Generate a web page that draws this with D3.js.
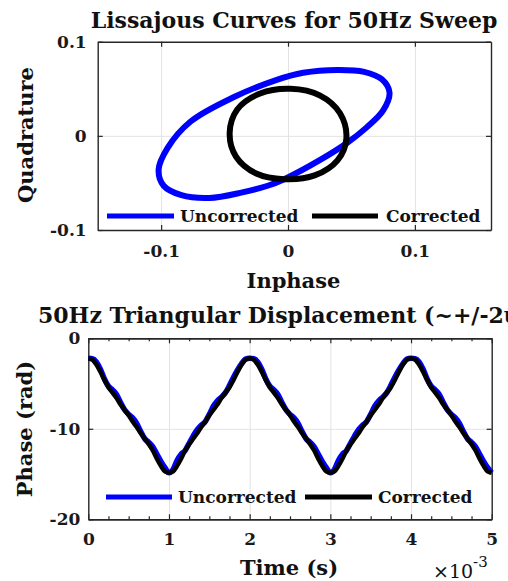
<!DOCTYPE html>
<html>
<head>
<meta charset="utf-8">
<script src="https://cdn.jsdelivr.net/npm/d3@7"></script>
<style>
body { margin: 0; background: #fff; }
svg { display: block; font-family: "DejaVu Serif", serif; font-weight: bold; }
</style>
</head>
<body>
<svg></svg>
<script>
const width = 508;
const height = 581;

// Lissajous samples (inphase, quadrature)
const uncorrectedI = [0.080, 0.074, 0.060, 0.039, 0.012, -0.010, -0.043, -0.077, -0.095, -0.102, -0.098, -0.084, -0.062, -0.036, -0.016, -0.003, 0.026, 0.047, 0.062, 0.075];
const uncorrectedQ = [0.046, 0.060, 0.068, 0.070, 0.067, 0.059, 0.041, 0.015, -0.013, -0.036, -0.053, -0.063, -0.066, -0.060, -0.053, -0.046, -0.025, -0.007, 0.009, 0.027];
const correctedI = [0.046, 0.041, 0.025, 0.002, -0.022, -0.040, -0.046, -0.041, -0.025, -0.003, 0.021, 0.039];
const correctedQ = [-0.003, 0.024, 0.043, 0.050, 0.045, 0.028, 0.003, -0.022, -0.040, -0.046, -0.042, -0.026];
const lissTicks = [-0.1, 0, 0.1];

// triangular displacement, time in units of 1e-3 s
const timeMs = [0, 0.05, 0.1, 0.15, 0.2, 0.25, 0.3, 0.35, 0.4, 0.45, 0.5, 0.55, 0.6, 0.65, 0.7, 0.75, 0.8, 0.85, 0.9, 0.95,
  1, 1.05, 1.1, 1.15, 1.2, 1.25, 1.3, 1.35, 1.4, 1.45, 1.5, 1.55, 1.6, 1.65, 1.7, 1.75, 1.8, 1.85, 1.9, 1.95,
  2, 2.05, 2.1, 2.15, 2.2, 2.25, 2.3, 2.35, 2.4, 2.45, 2.5, 2.55, 2.6, 2.65, 2.7, 2.75, 2.8, 2.85, 2.9, 2.95,
  3, 3.05, 3.1, 3.15, 3.2, 3.25, 3.3, 3.35, 3.4, 3.45, 3.5, 3.55, 3.6, 3.65, 3.7, 3.75, 3.8, 3.85, 3.9, 3.95,
  4, 4.05, 4.1, 4.15, 4.2, 4.25, 4.3, 4.35, 4.4, 4.45, 4.5, 4.55, 4.6, 4.65, 4.7, 4.75, 4.8, 4.85, 4.9, 4.95, 5];
const phaseUncorrected = [-2.2, -2.25, -2.6, -3.4, -4.5, -5.3, -5.7, -6.2, -7.1, -7.9, -8.4, -8.8, -9.4, -10.3, -11.1, -11.5, -12.0, -12.8, -13.6, -14.3,
  -14.85, -14.5, -13.5, -12.8, -12.4, -11.6, -10.8, -10.1, -9.6, -9.2, -8.4, -7.5, -6.9, -6.5, -6.0, -5.2, -4.3, -3.5, -2.8, -2.3,
  -2.2, -2.25, -2.6, -3.4, -4.5, -5.3, -5.7, -6.2, -7.1, -7.9, -8.4, -8.8, -9.4, -10.3, -11.1, -11.5, -12.0, -12.8, -13.6, -14.3,
  -14.85, -14.5, -13.5, -12.8, -12.4, -11.6, -10.8, -10.1, -9.6, -9.2, -8.4, -7.5, -6.9, -6.5, -6.0, -5.2, -4.3, -3.5, -2.8, -2.3,
  -2.2, -2.25, -2.6, -3.4, -4.5, -5.3, -5.7, -6.2, -7.1, -7.9, -8.4, -8.8, -9.4, -10.3, -11.1, -11.5, -12.0, -12.8, -13.6, -14.3, -14.85];
const phaseCorrected = [-2.2, -2.35, -2.9, -3.7, -4.6, -5.4, -6.0, -6.6, -7.3, -7.9, -8.5, -9.2, -9.8, -10.5, -11.1, -11.7, -12.4, -13.3, -14.1, -14.7,
  -14.85, -14.7, -14.1, -13.3, -12.4, -11.7, -11.1, -10.5, -9.8, -9.2, -8.5, -7.9, -7.3, -6.6, -6.0, -5.4, -4.6, -3.7, -2.9, -2.35,
  -2.2, -2.35, -2.9, -3.7, -4.6, -5.4, -6.0, -6.6, -7.3, -7.9, -8.5, -9.2, -9.8, -10.5, -11.1, -11.7, -12.4, -13.3, -14.1, -14.7,
  -14.85, -14.7, -14.1, -13.3, -12.4, -11.7, -11.1, -10.5, -9.8, -9.2, -8.5, -7.9, -7.3, -6.6, -6.0, -5.4, -4.6, -3.7, -2.9, -2.35,
  -2.2, -2.35, -2.9, -3.7, -4.6, -5.4, -6.0, -6.6, -7.3, -7.9, -8.5, -9.2, -9.8, -10.5, -11.1, -11.7, -12.4, -13.3, -14.1, -14.7, -14.85];
const timeTicks = [0, 1, 2, 3, 4, 5];
const timeMinorTicks = [0.25, 0.5, 0.75, 1.25, 1.5, 1.75, 2.25, 2.5, 2.75, 3.25, 3.5, 3.75, 4.25, 4.5, 4.75];
const phaseTicks = [-20, -10, 0];

const seriesNames = ['Uncorrected', 'Corrected'];
const seriesColors = ['#0000ff', '#000000'];

const svg = d3.select('svg')
  .attr('width', width)
  .attr('height', height);

const fmt = d => String(d);

function drawFrame(x, y, xTicks, yTicks, opts) {
  const [x0, x1] = x.range();
  const [y0, y1] = y.range(); // y0 bottom, y1 top
  const g = svg.append('g');

  // grid
  g.append('g')
    .attr('transform', `translate(0,${y0})`)
    .call(d3.axisBottom(x).tickValues(xTicks.filter(t => x(t) > x0 + 1 && x(t) < x1 - 1)).tickSize(y1 - y0).tickFormat(''))
    .call(a => a.select('.domain').remove())
    .selectAll('line').attr('stroke', '#e3e3e3').attr('stroke-width', 1);
  g.append('g')
    .attr('transform', `translate(${x0},0)`)
    .call(d3.axisLeft(y).tickValues(yTicks.filter(t => y(t) < y0 - 1 && y(t) > y1 + 1)).tickSize(x0 - x1).tickFormat(''))
    .call(a => a.select('.domain').remove())
    .selectAll('line').attr('stroke', '#e3e3e3').attr('stroke-width', 1);

  const axes = svg.append('g').attr('class', 'frame');
  axes.append('g')
    .attr('transform', `translate(0,${y0})`)
    .call(d3.axisBottom(x).tickValues(xTicks).tickSize(-5).tickSizeOuter(0).tickPadding(opts.xPad).tickFormat(fmt));
  axes.append('g')
    .attr('transform', `translate(0,${y1})`)
    .call(d3.axisTop(x).tickValues(xTicks).tickSize(-5).tickSizeOuter(0).tickFormat(''));
  if (opts.xMinor) {
    axes.append('g')
      .attr('transform', `translate(0,${y0})`)
      .call(d3.axisBottom(x).tickValues(opts.xMinor).tickSize(-3).tickSizeOuter(0).tickFormat(''));
    axes.append('g')
      .attr('transform', `translate(0,${y1})`)
      .call(d3.axisTop(x).tickValues(opts.xMinor).tickSize(-3).tickSizeOuter(0).tickFormat(''));
  }
  axes.append('g')
    .attr('transform', `translate(${x0},0)`)
    .call(d3.axisLeft(y).tickValues(yTicks).tickSize(-5).tickSizeOuter(0).tickPadding(opts.yPad).tickFormat(fmt));
  axes.append('g')
    .attr('transform', `translate(${x1},0)`)
    .call(d3.axisRight(y).tickValues(yTicks).tickSize(-5).tickSizeOuter(0).tickFormat(''));

  axes.selectAll('.domain').attr('stroke', '#262626').attr('stroke-width', 1.4);
  axes.selectAll('.tick line').attr('stroke', '#262626').attr('stroke-width', 1.2);
  axes.selectAll('.tick text')
    .attr('font-family', '"DejaVu Serif", serif')
    .attr('font-weight', 'bold')
    .attr('font-size', 17)
    .attr('fill', '#1a1a1a');
}

function drawLegend(yMid, items) {
  const lg = svg.append('g');
  items.forEach(it => {
    lg.append('line')
      .attr('x1', it.lx1).attr('x2', it.lx2)
      .attr('y1', yMid).attr('y2', yMid)
      .attr('stroke', it.color).attr('stroke-width', 5);
    lg.append('text')
      .attr('x', it.tx).attr('y', yMid + 6)
      .attr('font-size', 17)
      .attr('fill', '#111')
      .text(it.name);
  });
}

function label(text, x, y, size, rotate) {
  return svg.append('text')
    .attr('transform', `translate(${x},${y})` + (rotate ? ' rotate(-90)' : ''))
    .attr('text-anchor', 'middle')
    .attr('font-size', size)
    .attr('fill', '#111')
    .text(text);
}

// ---------- top: Lissajous ----------
const xL = d3.scaleLinear().domain([-0.15, 0.16]).range([97.7, 491]);
const yL = d3.scaleLinear().domain([-0.1, 0.1]).range([230, 41.7]);

drawFrame(xL, yL, lissTicks, lissTicks, { xPad: 15, yPad: 11 });

const lissLine = d3.line()
  .x(d => xL(d[0]))
  .y(d => yL(d[1]))
  .curve(d3.curveCatmullRomClosed.alpha(0.5));

const lissData = [
  d3.zip(uncorrectedI, uncorrectedQ),
  d3.zip(correctedI, correctedQ)
];

svg.append('g')
  .selectAll('path')
  .data(lissData)
  .enter()
  .append('path')
  .attr('d', lissLine)
  .attr('fill', 'none')
  .attr('stroke', (d, i) => seriesColors[i])
  .attr('stroke-width', 6);

drawLegend(216, [
  { name: seriesNames[0], color: seriesColors[0], lx1: 107, lx2: 174, tx: 180 },
  { name: seriesNames[1], color: seriesColors[1], lx1: 312, lx2: 378, tx: 386 }
]);

label('Lissajous Curves for 50Hz Sweep', 294, 28, 22);
label('Inphase', 293.5, 288, 21);
label('Quadrature', 33, 135, 21, true);

// ---------- bottom: phase vs time ----------
const xP = d3.scaleLinear().domain([0, 5]).range([88.3, 491.7]);
const yP = d3.scaleLinear().domain([-20, 0]).range([519.3, 338.3]);

drawFrame(xP, yP, timeTicks, phaseTicks, { xPad: 14, yPad: 8, xMinor: timeMinorTicks });

const phaseLine = d3.line()
  .x(d => xP(d[0]))
  .y(d => yP(d[1]))
  .curve(d3.curveMonotoneX);

const phaseData = [
  d3.zip(timeMs, phaseUncorrected),
  d3.zip(timeMs, phaseCorrected)
];

svg.append('g')
  .selectAll('path')
  .data(phaseData)
  .enter()
  .append('path')
  .attr('d', phaseLine)
  .attr('fill', 'none')
  .attr('stroke', (d, i) => seriesColors[i])
  .attr('stroke-width', (d, i) => i === 0 ? 5.5 : 4.5)
  .attr('stroke-linejoin', 'round');

drawLegend(497, [
  { name: seriesNames[0], color: seriesColors[0], lx1: 106, lx2: 172, tx: 178 },
  { name: seriesNames[1], color: seriesColors[1], lx1: 305, lx2: 372, tx: 378 }
]);

// the reference title runs past the right edge of the figure
svg.append('text')
  .attr('x', 38).attr('y', 323)
  .attr('font-size', 22)
  .attr('fill', '#111')
  .text('50Hz Triangular Displacement (~+/-2um)');
label('Time (s)', 289, 575, 21);
label('Phase (rad)', 32, 429, 21, true);

const mult = svg.append('text')
  .attr('x', 433).attr('y', 578)
  .attr('font-size', 19)
  .attr('font-weight', 'normal')
  .attr('fill', '#111');
mult.append('tspan').text('\u00d710');
mult.append('tspan').attr('dy', -11).attr('font-size', 15).text('-3');
</script>
</body>
</html>
